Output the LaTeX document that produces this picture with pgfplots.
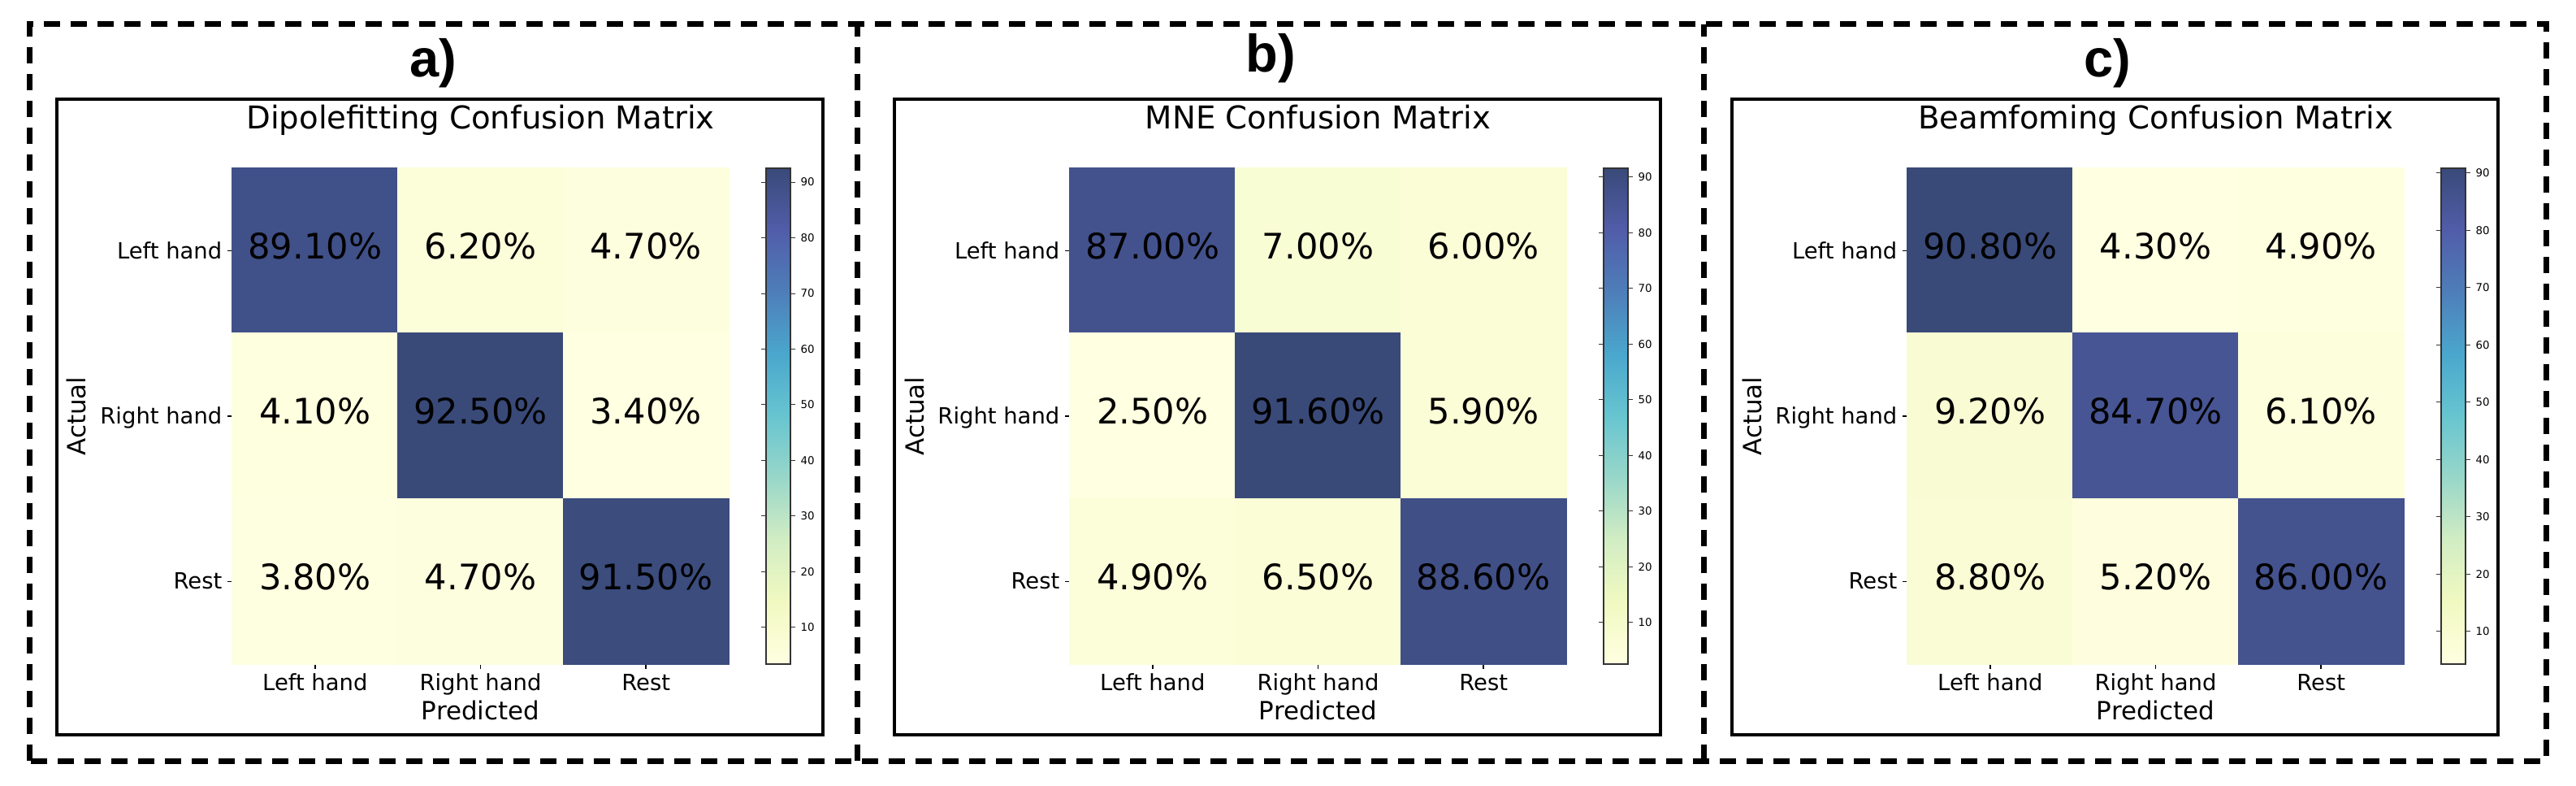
\documentclass[border=0pt]{standalone}
\usepackage{fontspec}
\setmainfont{DejaVu Sans}
\newfontfamily\panelfont{Liberation Sans}
\usepackage{pgfplots}
\pgfplotsset{compat=1.18}

\pgfplotsset{
  colormap={ylgnbu}{rgb255=(255,255,225) rgb255=(241,249,193) rgb255=(210,237,195)
    rgb255=(153,215,201) rgb255=(103,197,208) rgb255=(74,167,205) rgb255=(78,126,185)
    rgb255=(81,93,169) rgb255=(57,74,121)},
  cmat/.style={
    scale only axis, width=61.1mm, height=61mm,
    anchor=south west,
    xmin=-0.5, xmax=2.5, ymin=-0.5, ymax=2.5, y dir=reverse,
    enlargelimits=false, axis on top,
    axis line style={line width=0.5pt},
    xtick={0,1,2}, ytick={0,1,2},
    xticklabels={Left hand, Right hand, Rest},
    yticklabels={Left hand, Right hand, Rest},
    tick align=outside, major tick length=0.6mm,
    xtick pos=bottom, ytick pos=left,
    tick style={black, line width=0.4pt},
    ticklabel style={font=\fontsize{7.8}{9}\selectfont, inner sep=0pt},
    xticklabel style={anchor=base, yshift=-2.6mm},
    yticklabel style={anchor=mid east, xshift=-0.6mm},
    title style={at={(axis description cs:0.5,1)}, anchor=base, yshift=2.7mm,
      font=\fontsize{11}{13}\selectfont},
    xlabel={Predicted}, ylabel={Actual},
    label style={font=\fontsize{8.8}{10}\selectfont},
    xlabel style={at={(axis description cs:0.5,0)}, anchor=base, yshift=-6.8mm},
    ylabel style={at={(axis description cs:-0.2946,0.5)}, anchor=base},
    colorbar,
    colorbar style={
      at={(parent axis.north east)}, anchor=north west, xshift=1.6mm,
      scale only axis, width=3mm, height=61mm,
      ytick={10,20,...,90},
      tick align=outside, major tick length=0.6mm,
      tick style={black!80, line width=0.3pt},
      axis line style={black!80, line width=0.4pt},
      yticklabel style={font=\fontsize{3.8}{4}\selectfont, anchor=west,
        inner sep=0pt, xshift=0.6mm, /pgf/number format/assume math mode=true},
    },
  },
  % cell values printed at the cell centres
  cmvals/.style={
    only marks, mark=none, point meta=explicit symbolic,
    nodes near coords={\pgfplotspointmeta\%},
    every node near coord/.append style={anchor=center, yshift=0.6mm, text=black,
      font=\fontsize{12.3}{14}\selectfont},
  },
}

% one cell: col, row, fill colour (RGB, read from the YlGnBu scale of the panel)
\newcommand\cell[5]{%
  \addplot[only marks, mark=square*, mark size=29pt,
    color={rgb,255:red,#3;green,#4;blue,#5}] coordinates {(#1,#2)};}

\begin{document}
\begin{tikzpicture}
\useasboundingbox (0,0) rectangle (317.1mm,96.6mm);

% outer dashed frame and dividers
\draw[line width=0.7mm, dash pattern=on 2mm off 1.3mm] (3.6mm,3.0mm) rectangle (313.4mm,93.6mm);
\draw[line width=0.7mm, dash pattern=on 2mm off 1.3mm] (105.5mm,3.0mm) -- (105.5mm,93.6mm);
\draw[line width=0.7mm, dash pattern=on 2mm off 1.3mm] (209.7mm,3.0mm) -- (209.7mm,93.6mm);

% inner solid frames
\draw[line width=0.45mm] (7.0mm,6.2mm) rectangle (101.3mm,84.4mm);
\draw[line width=0.45mm] (110.1mm,6.2mm) rectangle (204.4mm,84.4mm);
\draw[line width=0.45mm] (213.2mm,6.2mm) rectangle (307.5mm,84.4mm);

\node[anchor=base, font=\panelfont\bfseries\fontsize{18.5}{20}\selectfont] at (53.3mm,87.2mm) {a)};
\node[anchor=base, font=\panelfont\bfseries\fontsize{18.5}{20}\selectfont] at (156.4mm,87.8mm) {b)};
\node[anchor=base, font=\panelfont\bfseries\fontsize{18.5}{20}\selectfont] at (259.4mm,87.2mm) {c)};

% row 0 = Left hand, 1 = Right hand, 2 = Rest
\begin{axis}[cmat, at={(28.6mm,14.9mm)}, title={Dipolefitting Confusion Matrix},
  point meta min=3.4, point meta max=92.5]
\cell{0}{0}{64}{80}{136} \cell{1}{0}{252}{254}{217} \cell{2}{0}{253}{254}{221}
\cell{0}{1}{254}{255}{223} \cell{1}{1}{57}{74}{121} \cell{2}{1}{255}{255}{225}
\cell{0}{2}{254}{255}{224} \cell{1}{2}{253}{254}{221} \cell{2}{2}{59}{76}{125}
\addplot[cmvals] coordinates {
  (0,0) [89.10] (1,0) [6.20]  (2,0) [4.70]
  (0,1) [4.10]  (1,1) [92.50] (2,1) [3.40]
  (0,2) [3.80]  (1,2) [4.70]  (2,2) [91.50]
};
\end{axis}

\begin{axis}[cmat, at={(131.7mm,14.9mm)}, title={MNE Confusion Matrix},
  point meta min=2.5, point meta max=91.6]
\cell{0}{0}{67}{82}{141} \cell{1}{0}{249}{253}{212} \cell{2}{0}{251}{253}{215}
\cell{0}{1}{255}{255}{225} \cell{1}{1}{57}{74}{121} \cell{2}{1}{251}{253}{215}
\cell{0}{2}{252}{254}{218} \cell{1}{2}{250}{253}{214} \cell{2}{2}{64}{79}{134}
\addplot[cmvals] coordinates {
  (0,0) [87.00] (1,0) [7.00]  (2,0) [6.00]
  (0,1) [2.50]  (1,1) [91.60] (2,1) [5.90]
  (0,2) [4.90]  (1,2) [6.50]  (2,2) [88.60]
};
\end{axis}

\begin{axis}[cmat, at={(234.8mm,14.9mm)}, title={Beamfoming Confusion Matrix},
  point meta min=4.3, point meta max=90.8]
\cell{0}{0}{57}{74}{121} \cell{1}{0}{255}{255}{225} \cell{2}{0}{254}{255}{223}
\cell{0}{1}{249}{252}{211} \cell{1}{1}{71}{85}{148} \cell{2}{1}{253}{254}{220}
\cell{0}{2}{249}{252}{212} \cell{1}{2}{254}{254}{222} \cell{2}{2}{68}{82}{142}
\addplot[cmvals] coordinates {
  (0,0) [90.80] (1,0) [4.30]  (2,0) [4.90]
  (0,1) [9.20]  (1,1) [84.70] (2,1) [6.10]
  (0,2) [8.80]  (1,2) [5.20]  (2,2) [86.00]
};
\end{axis}
\end{tikzpicture}
\end{document}
